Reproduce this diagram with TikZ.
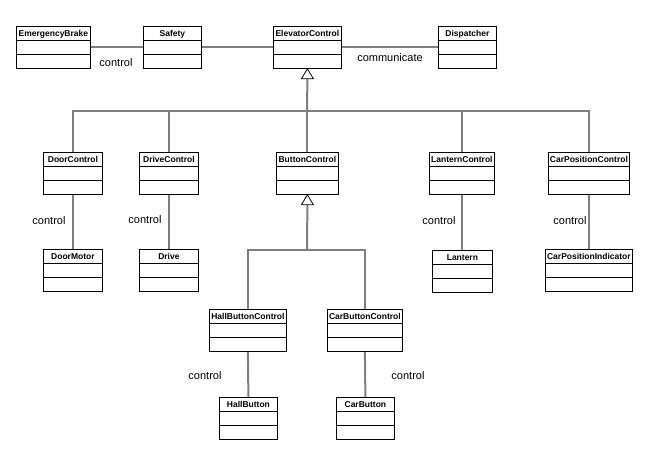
\documentclass[tikz,border=0pt]{standalone}
\usepackage{fontspec}
\setmainfont{Liberation Sans}
\definecolor{linegray}{HTML}{7F7F7F}
\begin{document}
\begin{tikzpicture}[x=1pt,y=-1pt,
  cls/.style={draw=black, line width=0.8pt, fill=white, anchor=north west,
    inner xsep=1pt, inner ysep=0pt, text height=10pt, text depth=32pt,
    minimum height=42pt, font=\bfseries\fontsize{8.5}{10}\selectfont,
    path picture={
      \draw[line width=0.8pt] ([yshift=-14pt]path picture bounding box.north west) -- ([yshift=-14pt]path picture bounding box.north east);
      \draw[line width=0.8pt] ([yshift=-28pt]path picture bounding box.north west) -- ([yshift=-28pt]path picture bounding box.north east);
    }},
  assoc/.style={draw=linegray, line width=2pt},
  lbl/.style={font=\fontsize{11}{13}\selectfont, inner sep=0pt},
  gentri/.style={draw=black, line width=0.8pt, fill=white}
]
\useasboundingbox (0,0) rectangle (653,450);

% top row
\node[cls, minimum width=74pt] (EB) at (16,26) {EmergencyBrake};
\node[cls, minimum width=58pt] (SF) at (143,26) {Safety};
\node[cls, minimum width=68pt] (EC) at (273,26) {ElevatorControl};
\node[cls, minimum width=58pt] (DP) at (438,26) {Dispatcher};

% second row
\node[cls, minimum width=59pt] (DC) at (43,152) {DoorControl};
\node[cls, minimum width=59pt] (DRC) at (139,152) {DriveControl};
\node[cls, minimum width=62pt] (BC) at (276,152) {ButtonControl};
\node[cls, minimum width=65pt] (LC) at (429,152) {LanternControl};
\node[cls, minimum width=81pt] (CPC) at (548,152) {CarPositionControl};

% third row
\node[cls, minimum width=59pt] (DM) at (43,249) {DoorMotor};
\node[cls, minimum width=59pt] (DR) at (139,249) {Drive};
\node[cls, minimum width=60pt] (LT) at (432,250) {Lantern};
\node[cls, minimum width=87pt] (CPI) at (545,249) {CarPositionIndicator};

% button subclasses
\node[cls, minimum width=77pt] (HBC) at (209,309) {HallButtonControl};
\node[cls, minimum width=75pt] (CBC) at (327,309) {CarButtonControl};
\node[cls, minimum width=58pt] (HB) at (219,397) {HallButton};
\node[cls, minimum width=58pt] (CB) at (336,397) {CarButton};

% associations
\draw[assoc] (EB.east) -- (SF.west);
\draw[assoc] (SF.east) -- (EC.west);
\draw[assoc] (EC.east) -- (DP.west);
\draw[assoc] (DC.south) -- (DM.north);
\draw[assoc] (DRC.south) -- (DR.north);
\draw[assoc] (LC.south) -- (LC.south |- LT.north);
\draw[assoc] (CPC.south) -- (CPC.south |- CPI.north);
\draw[assoc] (HBC.south) -- (HB.north);
\draw[assoc] (CBC.south) -- (CB.north);

% association labels
\node[lbl] (l1) at (116,63) {control};
\node[lbl] (l2) at (390,58) {communicate};
\node[lbl] (l3) at (49,221) {control};
\node[lbl] (l4) at (145,220) {control};
\node[lbl] (l5) at (439,221) {control};
\node[lbl] (l6) at (570,221) {control};
\node[lbl] (l7) at (205,376) {control};
\node[lbl] (l8) at (408,376) {control};

% generalization: ElevatorControl
\coordinate (bus1) at (307,111);
\draw[assoc] (DC.north) |- (bus1);
\draw[assoc] (DRC.north) |- (bus1);
\draw[assoc] (BC.north) -- (BC.north |- bus1);
\draw[assoc] (LC.north) |- (bus1);
\draw[assoc] (CPC.north) |- (bus1);
\draw[assoc] (bus1) -- ([yshift=-10pt]EC.south);
\draw[gentri] (EC.south) -- ++(-6,10) -- ++(12,0) -- cycle;

% generalization: ButtonControl
\coordinate (bus2) at (307,250);
\draw[assoc] (HBC.north) |- (bus2);
\draw[assoc] (CBC.north) |- (bus2);
\draw[assoc] (bus2) -- ([yshift=-10pt]BC.south);
\draw[gentri] (BC.south) -- ++(-6,10) -- ++(12,0) -- cycle;
\end{tikzpicture}
\end{document}
